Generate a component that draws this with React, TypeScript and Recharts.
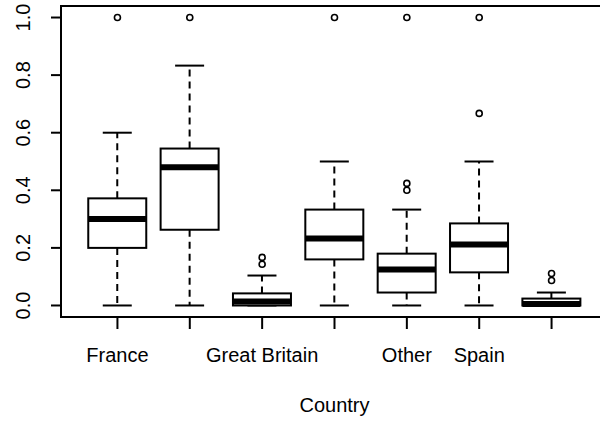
import { Bar, ComposedChart, ReferenceArea, Scatter, XAxis, YAxis } from "recharts"

const categories = ["France", "Germany", "Great Britain", "Italy", "Other", "Spain", "USA"]
const shownLabels = ["France", "Great Britain", "Other", "Spain"]
const positions = [1, 2, 3, 4, 5, 6, 7]
const whiskerLow = [0, 0, 0, 0, 0, 0, 0]
const lowerQuartile = [0.2, 0.263, 0, 0.16, 0.045, 0.115, 0]
const medians = [0.3, 0.48, 0.014, 0.233, 0.125, 0.212, 0.005]
const upperQuartile = [0.372, 0.545, 0.042, 0.333, 0.18, 0.285, 0.024]
const whiskerHigh = [0.6, 0.833, 0.104, 0.5, 0.333, 0.5, 0.045]
const outlierPositions = [1, 2, 3, 3, 4, 5, 5, 5, 6, 6, 7, 7]
const outlierValues = [1, 1, 0.167, 0.143, 1, 1, 0.424, 0.4, 1, 0.667, 0.111, 0.087]
const yTicks = [0, 0.2, 0.4, 0.6, 0.8, 1]

const font = "'Liberation Sans', Arial, Helvetica, sans-serif"

const rows = positions.map((pos, i) => ({
    pos,
    name: categories[i],
    base: lowerQuartile[i],
    box: upperQuartile[i] - lowerQuartile[i],
    low: whiskerLow[i],
    q1: lowerQuartile[i],
    median: medians[i],
    q3: upperQuartile[i],
    high: whiskerHigh[i],
}))

const outliers = outlierPositions.map((pos, i) => ({ pos, value: outlierValues[i] }))

function BoxShape(props: any) {
    const { x, y, width, height, payload } = props
    const k = height / (payload.q3 - payload.q1)
    const py = (v: number) => y + (payload.q3 - v) * k
    const cx = x + width / 2
    const cap = width / 4
    const yLow = py(payload.low)
    const yHigh = py(payload.high)
    const yMed = py(payload.median)
    return (
        <g>
            <line x1={cx} x2={cx} y1={y} y2={yHigh} stroke="#000" strokeWidth={2} strokeDasharray="7 5" />
            <line x1={cx} x2={cx} y1={y + height} y2={yLow} stroke="#000" strokeWidth={2} strokeDasharray="7 5" />
            <line x1={cx - cap} x2={cx + cap} y1={yHigh} y2={yHigh} stroke="#000" strokeWidth={2} />
            <line x1={cx - cap} x2={cx + cap} y1={yLow} y2={yLow} stroke="#000" strokeWidth={2} />
            <rect x={x} y={y} width={width} height={height} fill="#fff" stroke="#000" strokeWidth={2} />
            <line x1={x} x2={x + width} y1={yMed} y2={yMed} stroke="#000" strokeWidth={6} />
        </g>
    )
}

function OutlierDot(props: any) {
    return <circle cx={props.cx} cy={props.cy} r={3} fill="none" stroke="#000" strokeWidth={1.6} />
}

function XTick(props: any) {
    const { x, y, payload } = props
    const label = categories[positions.indexOf(payload.value)]
    if (!shownLabels.includes(label)) return null
    return (
        <text x={x} y={y + 24} textAnchor="middle" dominantBaseline="central" fontSize={20} fontFamily={font} fill="#000">
            {label}
        </text>
    )
}

function YTick(props: any) {
    const { x, y, payload } = props
    const tx = x - 26
    return (
        <text x={tx} y={y} transform={`rotate(-90, ${tx}, ${y})`} textAnchor="middle" dominantBaseline="central" fontSize={20} fontFamily={font} fill="#000">
            {payload.value.toFixed(1)}
        </text>
    )
}

export default function App() {
    return (
        <div style={{ position: "absolute", left: 0, top: 0, width: 600, height: 424, overflow: "hidden", background: "#fff" }}>
            <ComposedChart width={612} height={424} data={rows} margin={{ top: 6, right: 4, bottom: 0, left: 0 }}>
                <XAxis
                    dataKey="pos"
                    type="number"
                    domain={[0.22, 7.78]}
                    ticks={positions}
                    allowDataOverflow
                    height={107}
                    axisLine={false}
                    tickSize={12}
                    tickLine={{ stroke: "#000", strokeWidth: 2 }}
                    tick={<XTick />}
                    label={{ value: "Country", position: "insideBottom", offset: 12, fill: "#000", fontSize: 20, fontFamily: font }}
                />
                <YAxis
                    type="number"
                    domain={[-0.04, 1.04]}
                    ticks={yTicks}
                    allowDataOverflow
                    width={61}
                    axisLine={false}
                    tickSize={10}
                    tickLine={{ stroke: "#000", strokeWidth: 2 }}
                    tick={<YTick />}
                />
                <Bar dataKey="base" stackId="b" barSize={58} fill="none" isAnimationActive={false} />
                <Bar dataKey="box" stackId="b" barSize={58} shape={<BoxShape />} isAnimationActive={false} />
                <Scatter data={outliers} dataKey="value" shape={<OutlierDot />} isAnimationActive={false} />
                <ReferenceArea x1={0.22} x2={7.78} y1={-0.04} y2={1.04} fill="none" stroke="#000" strokeWidth={2} ifOverflow="visible" />
            </ComposedChart>
        </div>
    )
}
